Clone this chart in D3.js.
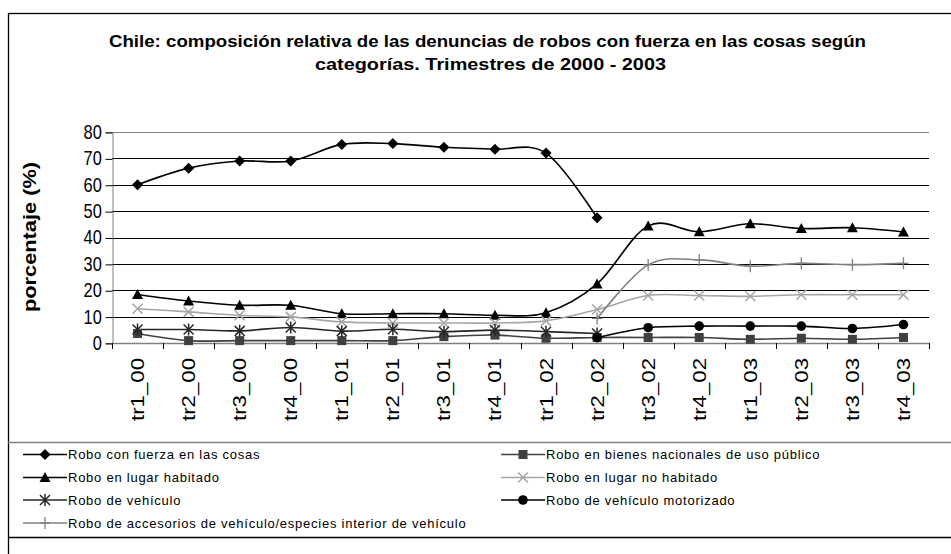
<!DOCTYPE html>
<html>
<head>
<meta charset="utf-8">
<script src="https://cdn.jsdelivr.net/npm/d3@7"></script>
<style>
  body { margin: 0; background: #fff; }
  text { font-family: Arial, "Liberation Sans", sans-serif; }
</style>
</head>
<body>
<svg id="chart" width="951" height="554"></svg>
<script>
var categories = ["tr1_00","tr2_00","tr3_00","tr4_00","tr1_01","tr2_01","tr3_01","tr4_01",
                  "tr1_02","tr2_02","tr3_02","tr4_02","tr1_03","tr2_03","tr3_03","tr4_03"];

var fuerzaCosas   = [60, 66.3, 69, 69, 75.3, 75.6, 74.2, 73.5, 72, 47.5, null, null, null, null, null, null];
var bienesNac     = [3.6, 0.9, 0.9, 0.9, 0.9, 0.9, 2.4, 3.0, 1.8, 2.1, 2.1, 2.1, 1.4, 1.8, 1.4, 2.1];
var lugarHab      = [18.4, 15.9, 14.3, 14.3, 11.1, 11.1, 11.1, 10.5, 11.5, 22.4, 44.4, 42.2, 45.2, 43.4, 43.7, 42.1];
var lugarNoHab    = [13, 11.8, 10.5, 9.9, 8, 7.6, 7.6, 7.6, 8.4, 12.7, 18, 18, 17.7, 18.3, 18.3, 18.3];
var vehiculo      = [5.1, 5.1, 4.6, 5.9, 4.5, 5.2, 4.3, 4.9, 4.3, 3.6, null, null, null, null, null, null];
var vehiculoMotor = [null, null, null, null, null, null, null, null, null, 2.0, 5.8, 6.4, 6.4, 6.4, 5.5, 7.0];
var accesorios    = [null, null, null, null, null, null, null, null, null, 9.3, 29.6, 31.5, 29.1, 30.2, 29.7, 30.2];

var yTicks = [0, 10, 20, 30, 40, 50, 60, 70, 80];

var series = [
  {name: "Robo con fuerza en las cosas", values: fuerzaCosas, color: "#000", mark: "diamond", mcolor: "#000"},
  {name: "Robo en bienes nacionales de uso público", values: bienesNac, color: "#404040", mark: "square", mcolor: "#404040"},
  {name: "Robo en lugar habitado", values: lugarHab, color: "#000", mark: "triangle", mcolor: "#000"},
  {name: "Robo en lugar no habitado", values: lugarNoHab, color: "#a6a6a6", mark: "x", mcolor: "#a6a6a6"},
  {name: "Robo de vehículo", values: vehiculo, color: "#262626", mark: "star", mcolor: "#262626"},
  {name: "Robo de vehículo motorizado", values: vehiculoMotor, color: "#000", mark: "circle", mcolor: "#000"},
  {name: "Robo de accesorios de vehículo/especies interior de vehículo", values: accesorios, color: "#808080", mark: "plus", mcolor: "#808080"}
];

var svg = d3.select("#chart");

var plot = {left: 112, right: 929, top: 132, bottom: 343};

var x = d3.scaleBand().domain(categories).range([plot.left, plot.right]);
var y = d3.scaleLinear().domain([0, 80]).range([plot.bottom, plot.top]);

// outer frame (runs off the right and bottom edges like the original)
svg.append("rect")
    .attr("x", 8.5).attr("y", 13.5)
    .attr("width", 960).attr("height", 560)
    .attr("fill", "none").attr("stroke", "#000").attr("stroke-width", 1.3);

// title
var title = svg.append("text")
    .attr("text-anchor", "middle")
    .attr("font-weight", "bold")
    .attr("font-size", "17px");
title.append("tspan").attr("x", 487.5).attr("y", 47)
    .attr("textLength", 757).attr("lengthAdjust", "spacingAndGlyphs")
    .text("Chile: composición relativa de las denuncias de robos con fuerza en las cosas según");
title.append("tspan").attr("x", 490.5).attr("y", 70)
    .attr("textLength", 351).attr("lengthAdjust", "spacingAndGlyphs")
    .text("categorías. Trimestres de 2000 - 2003");

// gridlines
svg.append("g").selectAll("line")
    .data(yTicks.slice(1))
    .enter().append("line")
    .attr("x1", plot.left).attr("x2", plot.right)
    .attr("y1", function(d) { return Math.round(y(d)) + 0.5; })
    .attr("y2", function(d) { return Math.round(y(d)) + 0.5; })
    .attr("stroke", function(d) { return d == 80 ? "#808080" : "#000"; })
    .attr("stroke-width", 1);

// y axis
var yAxis = d3.axisLeft(y).tickValues(yTicks).tickSize(7).tickPadding(5);
var gy = svg.append("g")
    .attr("transform", "translate(" + (plot.left + 0.5) + ",0)")
    .call(yAxis);
gy.select(".domain").attr("stroke", "#808080");
gy.selectAll(".tick line").attr("stroke", "#000")
    .attr("transform", "translate(0,0.5)");
gy.selectAll(".tick text")
    .attr("font-size", "20px")
    .attr("font-family", "Arial, 'Liberation Sans', sans-serif")
    .attr("fill", "#000")
    .attr("x", -13)
    .attr("transform", "scale(0.82,1)");

svg.append("text")
    .attr("transform", "translate(36," + 237 + ") rotate(-90)")
    .attr("text-anchor", "middle")
    .attr("font-weight", "bold")
    .attr("font-size", "18px")
    .attr("textLength", 150).attr("lengthAdjust", "spacingAndGlyphs")
    .text("porcentaje (%)");

// x axis: ticks at category boundaries
var gx = svg.append("g").attr("class", "xaxis");
gx.append("line")
    .attr("x1", plot.left).attr("x2", plot.right)
    .attr("y1", plot.bottom + 0.5).attr("y2", plot.bottom + 0.5)
    .attr("stroke", "#808080").attr("stroke-width", 1.3);
gx.selectAll(".xtick")
    .data(categories.concat(["end"]))
    .enter().append("line")
    .attr("class", "xtick")
    .attr("x1", function(d, i) { return Math.round(plot.left + i * x.bandwidth()) + 0.5; })
    .attr("x2", function(d, i) { return Math.round(plot.left + i * x.bandwidth()) + 0.5; })
    .attr("y1", plot.bottom).attr("y2", plot.bottom + 6)
    .attr("stroke", "#000");
gx.selectAll(".xlab")
    .data(categories)
    .enter().append("text")
    .attr("class", "xlab")
    .attr("transform", function(d) {
      return "translate(" + (x(d) + x.bandwidth() / 2 + 6.5) + "," + (plot.bottom + 15) + ") rotate(-90)";
    })
    .attr("text-anchor", "end")
    .attr("font-size", "18px")
    .attr("textLength", 63).attr("lengthAdjust", "spacingAndGlyphs")
    .text(function(d) { return d; });

// lines
var line = d3.line()
    .defined(function(d) { return d != null; })
    .curve(d3.curveCatmullRom.alpha(0))
    .x(function(d, i) { return x(categories[i]) + x.bandwidth() / 2; })
    .y(function(d) { return y(d); });

svg.append("g").selectAll("path")
    .data(series)
    .enter().append("path")
    .attr("d", function(s) { return line(s.values); })
    .attr("fill", "none")
    .attr("stroke", function(s) { return s.color; })
    .attr("stroke-width", 1.6);

// markers
function drawMark(g, type, color) {
  if (type == "diamond") {
    g.append("path").attr("d", "M0,-5.5L5.5,0L0,5.5L-5.5,0Z").attr("fill", color);
  } else if (type == "square") {
    g.append("rect").attr("x", -4.5).attr("y", -4.5).attr("width", 9).attr("height", 9).attr("fill", color);
  } else if (type == "triangle") {
    g.append("path").attr("d", "M0,-5.5L5.5,4.5L-5.5,4.5Z").attr("fill", color);
  } else if (type == "circle") {
    g.append("circle").attr("r", 4.8).attr("fill", color);
  } else if (type == "x") {
    g.append("path").attr("d", "M-5,-5L5,5M5,-5L-5,5").attr("stroke", color).attr("stroke-width", 1.5);
  } else if (type == "star") {
    g.append("path").attr("d", "M-5,-5L5,5M5,-5L-5,5M0,-6L0,6").attr("stroke", color).attr("stroke-width", 1.5);
  } else if (type == "plus") {
    g.append("path").attr("d", "M-5,0L5,0M0,-6L0,6").attr("stroke", color).attr("stroke-width", 1.3);
  }
}

series.forEach(function(s) {
  var pts = [];
  s.values.forEach(function(v, i) { if (v != null) pts.push({cat: categories[i], v: v}); });
  svg.append("g").selectAll("g")
    .data(pts)
    .enter().append("g")
    .attr("transform", function(d) { return "translate(" + (x(d.cat) + x.bandwidth() / 2) + "," + y(d.v) + ")"; })
    .each(function() { drawMark(d3.select(this), s.mark, s.mcolor); });
});

// legend
svg.append("line")
    .attr("x1", 8).attr("x2", 951).attr("y1", 442.5).attr("y2", 442.5)
    .attr("stroke", "#808080").attr("stroke-width", 1.3);
svg.append("line")
    .attr("x1", 8).attr("x2", 951).attr("y1", 537.5).attr("y2", 537.5)
    .attr("stroke", "#000").attr("stroke-width", 1.3);

var legendX = [23, 501], legendY = [454.5, 477.5, 500, 523];
var leg = svg.append("g").selectAll("g")
    .data(series)
    .enter().append("g")
    .attr("transform", function(d, i) {
      var col = i == 6 ? 0 : i % 2, row = Math.floor(i / 2);
      return "translate(" + legendX[col] + "," + legendY[row] + ")";
    });
leg.append("line")
    .attr("x1", 0).attr("x2", 44).attr("y1", 0).attr("y2", 0)
    .attr("stroke", function(d) { return d.color; })
    .attr("stroke-width", 1.6);
leg.append("g")
    .attr("transform", "translate(22,0)")
    .each(function(d) { drawMark(d3.select(this), d.mark, d.mcolor); });
leg.append("text")
    .attr("x", 45)
    .attr("dy", "0.35em")
    .attr("font-size", "13px")
    .attr("letter-spacing", "0.75px")
    .text(function(d) { return d.name; });
</script>
</body>
</html>
